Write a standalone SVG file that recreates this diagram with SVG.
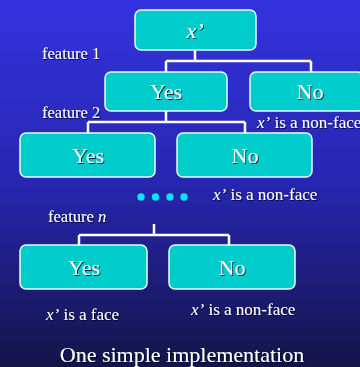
<svg xmlns="http://www.w3.org/2000/svg" width="360" height="367" viewBox="0 0 360 367">
<defs>
<linearGradient id="bg" x1="0" y1="0" x2="0" y2="1">
<stop offset="0" stop-color="#3333e0"/>
<stop offset="0.5" stop-color="#2626b0"/>
<stop offset="1" stop-color="#141448"/>
</linearGradient>
<filter id="sh" x="-10%" y="-20%" width="130%" height="150%">
<feDropShadow dx="1" dy="1" stdDeviation="0.4" flood-color="#000033" flood-opacity="0.8"/>
</filter>
</defs>
<style>
.box{fill:#00cccc;stroke:#e8ffff;stroke-width:1.5}
.con{fill:none;stroke:#ffffff;stroke-width:2.5}
.t{font-family:"Liberation Serif","Times New Roman",serif;fill:#ffffff;filter:url(#sh)}
.bt{font-size:22px;text-anchor:middle}
.lab{font-size:16.5px}
.res{font-size:17px}
.dot{fill:#00e8ff}
</style>
<rect x="0" y="0" width="360" height="367" fill="url(#bg)"/>
<g id="connectors">
<path class="con" d="M195,50 V61 M166,61 H311 M166,61 V72 M311,61 V72"/>
<path class="con" d="M166,111 V122 M88,122 H245 M88,122 V133 M245,122 V133"/>
<path class="con" d="M154,224 V235 M79,235 H229 M79,235 V245 M229,235 V245"/>
</g>
<g id="root">
<rect class="box" x="135" y="10" width="121" height="40" rx="6"/>
<text class="t bt" x="195" y="38" font-style="italic">x’</text>
</g>
<g id="yes1">
<rect class="box" x="105" y="72" width="122" height="39" rx="6"/>
<text class="t bt" x="166" y="99">Yes</text>
</g>
<g id="no1">
<rect class="box" x="250" y="72" width="114" height="39" rx="6"/>
<text class="t bt" x="310" y="99">No</text>
</g>
<g id="yes2">
<rect class="box" x="20" y="133" width="135" height="44" rx="6"/>
<text class="t bt" x="88" y="163">Yes</text>
</g>
<g id="no2">
<rect class="box" x="177" y="133" width="135" height="44" rx="6"/>
<text class="t bt" x="245" y="163">No</text>
</g>
<g id="dots">
<circle class="dot" cx="141" cy="197" r="3.7"/>
<circle class="dot" cx="155.5" cy="197" r="3.7"/>
<circle class="dot" cx="170" cy="197" r="3.7"/>
<circle class="dot" cx="184" cy="197" r="3.7"/>
</g>
<g id="yes3">
<rect class="box" x="20" y="245" width="127" height="44" rx="6"/>
<text class="t bt" x="84" y="275">Yes</text>
</g>
<g id="no3">
<rect class="box" x="169" y="245" width="126" height="44" rx="6"/>
<text class="t bt" x="232" y="275">No</text>
</g>
<g id="labels">
<text class="t lab" x="42" y="59">feature 1</text>
<text class="t lab" x="42" y="118">feature 2</text>
<text class="t lab" x="48" y="222">feature <tspan font-style="italic">n</tspan></text>
<text class="t res" x="257" y="128"><tspan font-style="italic">x’</tspan> is a non-face</text>
<text class="t res" x="213" y="200"><tspan font-style="italic">x’</tspan> is a non-face</text>
<text class="t res" x="46" y="320"><tspan font-style="italic">x’</tspan> is a face</text>
<text class="t res" x="191" y="315"><tspan font-style="italic">x’</tspan> is a non-face</text>
<text class="t" x="182" y="362" font-size="22" text-anchor="middle">One simple implementation</text>
</g>
</svg>
